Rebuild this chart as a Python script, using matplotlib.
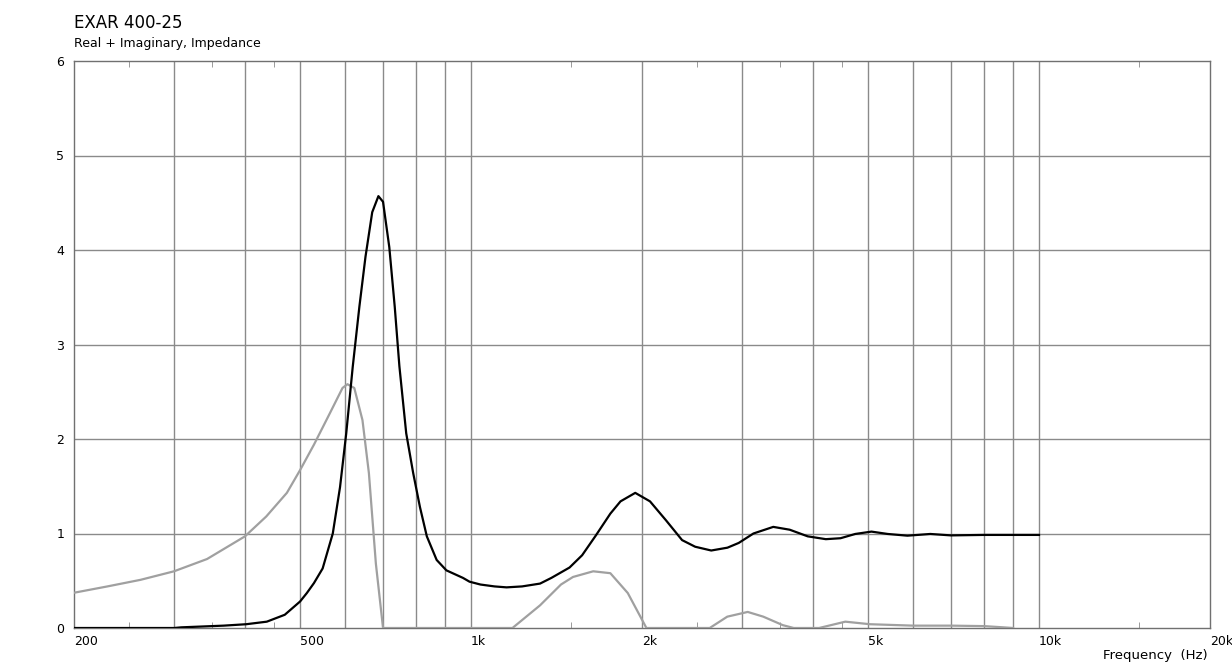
import matplotlib
matplotlib.use('Agg')
import matplotlib.pyplot as plt
import numpy as np

# values (Hz, ohm-ish units)
real_f = [200, 300, 309, 367, 402, 437, 470, 500, 514, 529, 548, 571, 588, 603, 619, 636, 652,
          670, 687, 700, 718, 734, 748, 769, 791, 813, 836, 870, 905, 968, 994, 1039, 1100, 1155,
          1230, 1323, 1385, 1491, 1569, 1659, 1759, 1833, 1946, 2066, 2204, 2353, 2481, 2648,
          2828, 2960, 3142, 3405, 3640, 3915, 4214, 4473, 4747, 5070, 5416, 5866, 6436, 7000,
          8000, 10000]
real_z = [0.0, 0.0, 0.007, 0.025, 0.04, 0.067, 0.14, 0.28, 0.37, 0.475, 0.63, 1.0, 1.49, 2.06,
          2.76, 3.40, 3.93, 4.40, 4.57, 4.51, 4.03, 3.40, 2.77, 2.06, 1.64, 1.28, 0.97, 0.72,
          0.61, 0.53, 0.49, 0.46, 0.44, 0.43, 0.44, 0.47, 0.53, 0.64, 0.77, 0.98, 1.21, 1.34,
          1.43, 1.34, 1.14, 0.93, 0.86, 0.82, 0.85, 0.90, 1.00, 1.07, 1.04, 0.97, 0.94, 0.95,
          0.995, 1.02, 0.995, 0.977, 0.995, 0.98, 0.985, 0.985]

imag_f = [200, 229, 262, 300, 343, 400, 436, 474, 500, 529, 564, 594, 606, 623, 644, 661, 680,
          700, 800, 1000, 1183, 1323, 1440, 1512, 1641, 1759, 1888, 1987, 2036, 2300, 2632,
          2826, 3070, 3270, 3540, 3700, 4100, 4560, 5040, 6000, 7000, 8000, 8500, 9000]
imag_z = [0.373, 0.44, 0.51, 0.60, 0.73, 0.97, 1.18, 1.43, 1.67, 1.94, 2.27, 2.54, 2.58, 2.54,
          2.20, 1.64, 0.68, 0.0, 0.0, 0.0, 0.0, 0.24, 0.46, 0.54, 0.60, 0.58, 0.37, 0.12, 0.0,
          0.0, 0.0, 0.12, 0.17, 0.12, 0.03, 0.0, 0.0, 0.067, 0.04, 0.025, 0.025, 0.02, 0.01, 0.0]

grid_f = [300, 400, 500, 600, 700, 800, 900, 1000, 2000, 3000, 4000, 5000, 6000, 7000, 8000,
          9000, 10000]
label_f = {200: '200', 500: '500', 1000: '1k', 2000: '2k', 5000: '5k', 10000: '10k', 20000: '20k'}
minor_f = [250, 350, 450, 1500, 2500, 3500, 4500, 15000]
y_ticks = [0, 1, 2, 3, 4, 5, 6]

plt.rcParams['font.family'] = ['DejaVu Sans']
fig = plt.figure(figsize=(12.32, 6.67), dpi=100)
ax = fig.add_axes([74/1232, 39/667, 1136/1232, 567/667])

ax.set_xscale('log')
ax.set_xlim(200, 20000)
ax.set_ylim(0, 6)

gridc = '#8a8a8a'
for f in grid_f:
    ax.axvline(f, color=gridc, lw=1, zorder=1)
for y in y_ticks[1:-1]:
    ax.axhline(y, color=gridc, lw=1, zorder=1)

ax.plot(imag_f, imag_z, color='#a0a0a0', lw=1.6, zorder=3, solid_joinstyle='round')
ax.plot(real_f, real_z, color='black', lw=1.6, zorder=4, solid_joinstyle='round')

ticks = sorted(label_f.keys())
ax.set_xticks(ticks)
ax.set_xticklabels([label_f[t] for t in ticks])
ax.set_xticks(minor_f, minor=True)
ax.set_xticklabels([], minor=True)
ax.tick_params(axis='x', which='major', length=0, pad=5, labelsize=9)
ax.tick_params(axis='x', which='minor', length=4, direction='in', top=True, bottom=True,
               color=gridc)
for lbl in ax.get_xticklabels():
    lbl.set_ha('left')

ax.set_yticks(y_ticks)
ax.tick_params(axis='y', length=0, pad=7, labelsize=9)

for s in ax.spines.values():
    s.set_color('#707070')
    s.set_linewidth(1)

fig.text(74/1232, 1 - 28/667, 'EXAR 400-25', fontsize=12, ha='left', va='baseline')
fig.text(74/1232, 1 - 47/667, 'Real + Imaginary, Impedance', fontsize=9, ha='left', va='baseline')
fig.text(1208/1232, 1 - 659/667, 'Frequency  (Hz)', fontsize=9.5, ha='right', va='baseline')

fig.savefig('out.png', dpi=100)
